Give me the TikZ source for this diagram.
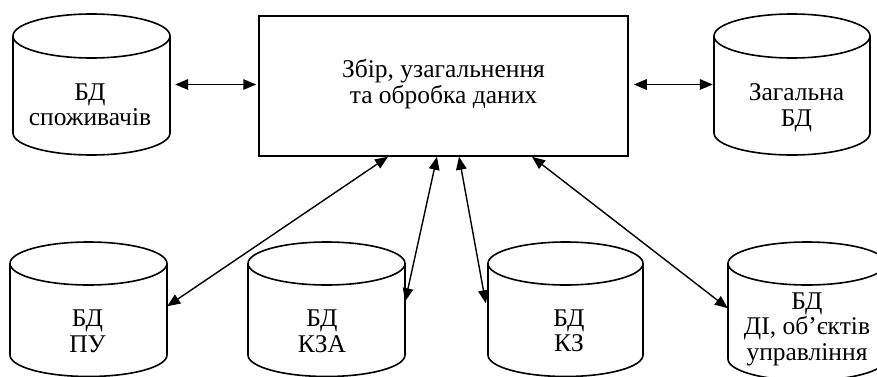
\documentclass[tikz,border=0pt]{standalone}
\usepackage{fontspec}
\setmainfont{Liberation Serif}
\usetikzlibrary{arrows.meta,calc}
\newcommand\mydb[6]{% #1 name, #2 cx, #3 top Y, #4 bottom Y, #5 rx, #6 ry
  \draw[cylline] (#2,#3) ellipse [x radius=#5, y radius=#6];
  \draw[cylline] (#2-#5,#3) -- (#2-#5,#4) arc[start angle=180,end angle=360,x radius=#5,y radius=#6] -- (#2+#5,#3);
  \node[inner sep=0pt, minimum width=2*#5, minimum height=#3-#4] (#1) at (#2,{(#3+#4)/2}) {};
}
\begin{document}
\begin{tikzpicture}[x=1pt,y=1pt,
  cylline/.style={line width=1.6pt, line join=round},
  lbl/.style={align=center, inner sep=0pt, font=\fontsize{25.5}{25.5}\selectfont},
  arr/.style={line width=1.4pt, {Triangle[length=13pt,width=10.5pt]}-{Triangle[length=13pt,width=10.5pt]}}]
\useasboundingbox (0,0) rectangle (877,376);
% central box
\node[draw, line width=1.5pt, minimum width=369pt, minimum height=140pt, inner sep=0pt] (box) at (443.5,290) {};
\node[lbl] (boxT) at (443.5,292) {Збір, узагальнення\\та обробка даних};
% databases
\mydb{sp}{91.5}{340}{243}{78.5}{22}
\mydb{zag}{792}{340}{243}{78}{22}
\mydb{pu}{88.5}{112.5}{21}{78.5}{21.5}
\mydb{kza}{326.5}{112.5}{21}{78.5}{21.5}
\mydb{kz}{565.5}{112.5}{21}{77.5}{21.5}
\mydb{di}{807}{112.5}{17}{79}{21.5}
\node[lbl] (spT) at (90,271) {БД\\споживачів};
\node[lbl] (zagT) at (796.5,268) {Загальна\\БД};
\node[lbl] (puT) at (87.5,44.5) {БД\\ПУ};
\node[lbl] (kzaT) at (322,44.5) {БД\\КЗА};
\node[lbl] (kzT) at (569,45) {БД\\КЗ};
\node[lbl] (diT) at (807,47) {БД\\ДІ, об’єктів\\управління};
% connectors
\draw[arr, shorten <=5pt, shorten >=2pt] (sp.east) -- (sp.east -| box.west);
\draw[arr, shorten <=5pt, shorten >=1pt] (box.east |- zag.west) -- (zag.west);
\draw[arr] ([xshift=-55.5pt]box.south) -- ([yshift=3pt]pu.east);
\draw[arr] ([xshift=-6.5pt]box.south) -- ([yshift=8pt]kza.east);
\draw[arr] ([xshift=15.5pt]box.south) -- ([yshift=6pt,xshift=-2pt]kz.west);
\draw[arr] ([xshift=88.5pt]box.south) -- ([yshift=3pt]di.west);
\end{tikzpicture}
\end{document}
